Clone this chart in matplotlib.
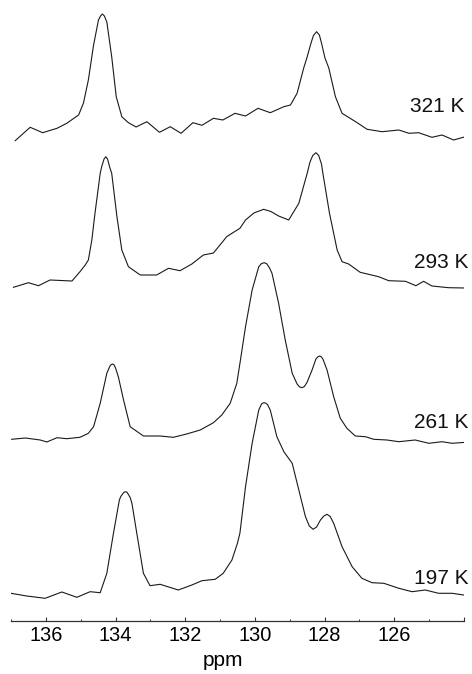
import numpy as np
import matplotlib
matplotlib.use("Agg")
import matplotlib.pyplot as plt
from matplotlib.ticker import MultipleLocator

# --------------------------
# Spectra (ppm, intensity in a.u. above each trace's own baseline)
# --------------------------
temps = ["321 K", "293 K", "261 K", "197 K"]

ppm_321 = [136.88, 136.45, 136.09, 135.68, 135.40, 135.06, 134.92, 134.78, 134.63, 134.49,
           134.43, 134.38, 134.32, 134.25, 134.11, 133.98, 133.82, 133.63, 133.41, 133.10,
           132.74, 132.43, 132.12, 131.78, 131.52, 131.19, 130.92, 130.57, 130.27, 129.91,
           129.56, 129.17, 128.98, 128.79, 128.60, 128.51, 128.39, 128.32, 128.23, 128.15,
           128.09, 127.99, 127.88, 127.69, 127.50, 127.11, 126.78, 126.35, 125.87, 125.58,
           125.30, 124.92, 124.63, 124.30, 123.96]
int_321 = [-0.7, 12.7, 7.3, 11.7, 16.7, 25, 37, 60, 95, 120,
           124, 126, 124, 118, 83.3, 43.3, 23.3, 17.3, 13, 18.3,
           7.7, 13.3, 6.7, 17.3, 14.7, 21.7, 20, 26.7, 24, 31.7,
           27.3, 33.3, 35, 46.7, 72, 82, 97, 104.5, 108.3, 105,
           97, 82, 72, 43.3, 26.7, 18.3, 10.7, 8.3, 10, 6.7,
           7.3, 2.7, 5, 0, 3.3]

ppm_293 = [136.93, 136.50, 136.21, 135.88, 135.25, 135.02, 134.87, 134.78, 134.73, 134.68,
           134.59, 134.44, 134.40, 134.33, 134.28, 134.23, 134.16, 134.11, 133.96, 133.82,
           133.63, 133.29, 132.82, 132.48, 132.15, 131.81, 131.48, 131.19, 130.81, 130.66,
           130.43, 130.27, 130.03, 129.75, 129.54, 129.32, 129.03, 128.74, 128.50, 128.42,
           128.34, 128.25, 128.17, 128.09, 128.05, 127.86, 127.64, 127.50, 127.31, 126.98,
           126.45, 126.16, 125.68, 125.38, 125.16, 124.92, 124.44, 123.96]
int_293 = [0.7, 5.3, 2.3, 8, 7, 16.3, 23, 28, 38, 48,
           74.7, 114.7, 121, 129, 131.3, 129, 120, 114.7, 71.3, 38,
           21.3, 13, 13, 19.7, 17.3, 24, 33, 35, 51.3, 54.7,
           59.7, 68, 75, 78.7, 76.5, 72, 68, 84.7, 114.7, 126,
           132.5, 135.3, 132.5, 124, 114.7, 74.7, 38, 26.3, 24, 15.7,
           11.3, 7.3, 6.7, 2.3, 6.7, 2, 0.3, 0]

ppm_261 = [136.98, 136.59, 136.16, 135.97, 135.68, 135.40, 135.02, 134.78, 134.63, 134.44,
           134.25, 134.16, 134.12, 134.08, 134.04, 134.00, 133.92, 133.77, 133.58, 133.20,
           132.72, 132.34, 131.96, 131.57, 131.19, 130.95, 130.71, 130.52, 130.43, 130.27,
           130.08, 129.89, 129.81, 129.73, 129.66, 129.58, 129.51, 129.32, 129.13, 128.93,
           128.79, 128.72, 128.65, 128.58, 128.50, 128.36, 128.25, 128.19, 128.14, 128.09,
           128.05, 127.93, 127.74, 127.55, 127.36, 127.12, 126.83, 126.59, 126.21, 125.87,
           125.40, 125.01, 124.63, 124.34, 123.96]
int_261 = [2.7, 4, 2, 0, 4.3, 3.3, 4.7, 8.7, 15.3, 38.7,
           68.7, 76, 77.5, 78, 77, 74, 65.3, 42, 15.3, 6,
           6, 4.7, 8, 12, 19.3, 27, 38.7, 58.7, 78.7, 115.3,
           152, 175.3, 178.5, 179.3, 178.2, 174, 168.7, 138.7, 102, 68.7,
           58, 55.2, 54.3, 55.5, 60, 72, 83, 85.3, 86, 85,
           83, 72, 45.3, 23.7, 13.7, 6, 5.3, 2.7, 2, 0.3,
           2, -1.3, 0.3, -1.3, -0.3]

ppm_197 = [137.00, 136.55, 136.02, 135.54, 135.11, 134.73, 134.44, 134.25, 134.06, 133.89,
           133.85, 133.76, 133.71, 133.67, 133.58, 133.53, 133.39, 133.20, 133.01, 132.72,
           132.20, 131.81, 131.52, 131.14, 130.91, 130.66, 130.50, 130.43, 130.27, 130.08,
           129.89, 129.81, 129.77, 129.73, 129.69, 129.64, 129.56, 129.37, 129.17, 128.93,
           128.74, 128.55, 128.44, 128.33, 128.23, 128.12, 128.02, 127.93, 127.84, 127.74,
           127.50, 127.21, 126.93, 126.64, 126.30, 125.87, 125.49, 125.11, 124.73, 124.34,
           124.01]
int_197 = [1.7, -1, -3.3, 3, -2.3, 3.3, 2.3, 21.7, 61.7, 95,
           98.5, 102.7, 103.3, 102.7, 97.5, 91.7, 61.7, 21.7, 9.3, 10.7,
           5, 10, 14.3, 15.7, 21.7, 35, 52, 62, 108.3, 151.7,
           185, 191, 192, 192.3, 191.8, 190.5, 185, 158.3, 143.3, 131.7,
           105, 78.3, 69, 65.7, 68, 75, 79, 80.7, 78.5, 71.7,
           48.3, 28.3, 16.7, 12.3, 11.7, 6.7, 3.3, 5, 1.7, 1.7,
           0]

spectra = [(ppm_321, int_321), (ppm_293, int_293), (ppm_261, int_261), (ppm_197, int_197)]

# vertical stacking of the traces and where each temperature label sits
offsets = [481, 333, 179, 26]
label_dy = [33, 26, 19.3, 16.7]
label_x = [124.0, 123.86, 123.86, 123.86]

# --------------------------
# Figure
# --------------------------
plt.rcParams["font.family"] = ["Liberation Sans", "DejaVu Sans"]

fig = plt.figure(figsize=(4.72, 6.74), dpi=100)
ax = fig.add_axes([11 / 472, 53 / 674, 453 / 472, 621 / 674])

for (ppm, inten), off, name, dy, lx in zip(spectra, offsets, temps, label_dy, label_x):
    ax.plot(ppm, np.array(inten) + off, color="#1a1a1a", lw=0.8)
    ax.text(lx, off + dy, name, ha="right", va="center", fontsize=15,
            color="#111111", clip_on=False)

ax.set_xlim(137, 124)
ax.set_ylim(0, 621)

for side in ["top", "right", "left"]:
    ax.spines[side].set_visible(False)
ax.spines["bottom"].set_color("#333333")
ax.spines["bottom"].set_linewidth(0.9)

ax.set_yticks([])
ax.set_xticks([136, 134, 132, 130, 128, 126, 124])
ax.set_xticklabels(["136", "134", "132", "130", "128", "126", ""])
ax.xaxis.set_minor_locator(MultipleLocator(1))
ax.tick_params(axis="x", which="major", direction="in", length=3.1, width=0.8,
               color="#333333", labelsize=14.4, pad=3.5)
ax.tick_params(axis="x", which="minor", direction="in", length=1.5, width=0.7,
               color="#333333")

fig.text(222.5 / 472, 1 - 660 / 674, "ppm", ha="center", va="center", fontsize=15)

fig.savefig("out.png", dpi=100, facecolor="white")
